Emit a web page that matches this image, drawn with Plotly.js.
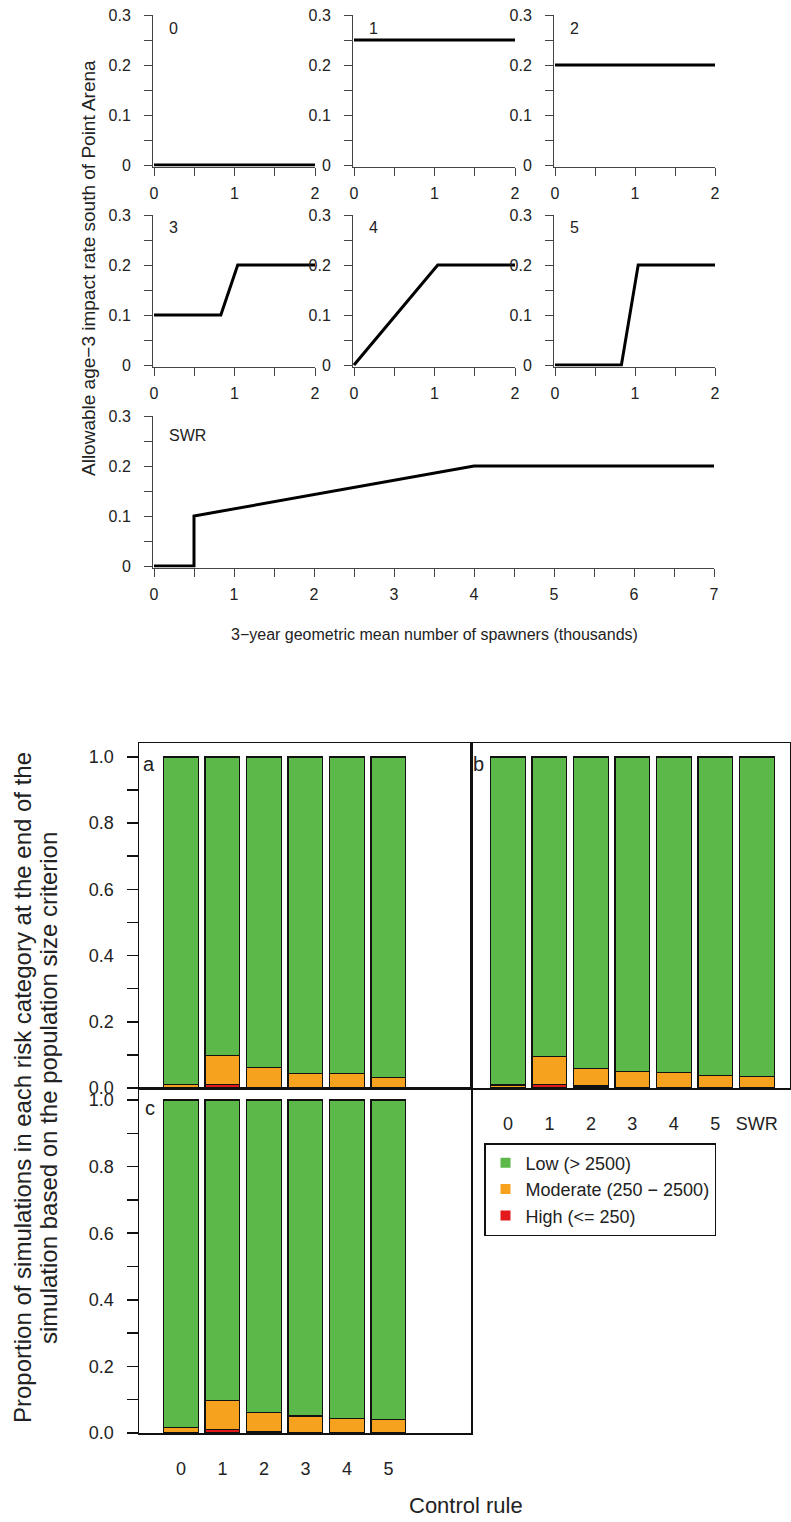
<!DOCTYPE html>
<html><head><meta charset="utf-8">
<script src="https://cdn.plot.ly/plotly-3.0.1.min.js"></script>
<style>html,body{margin:0;padding:0;background:#fff}</style>
</head><body><div id="chart" style="width:791px;height:1522px"></div>
<script>
// ---------- Control-rule data (top figure) ----------
const rule0X = [0, 2],               rule0Y = [0, 0];
const rule1X = [0, 2],               rule1Y = [0.25, 0.25];
const rule2X = [0, 2],               rule2Y = [0.2, 0.2];
const rule3X = [0, 0.83, 1.04, 2],   rule3Y = [0.1, 0.1, 0.2, 0.2];
const rule4X = [0, 1.04, 2],         rule4Y = [0, 0.2, 0.2];
const rule5X = [0, 0.83, 1.04, 2],   rule5Y = [0, 0, 0.2, 0.2];
const ruleSWRX = [0, 0.5, 0.5, 4, 7], ruleSWRY = [0, 0, 0.1, 0.2, 0.2];
const ruleLabels = ['0', '1', '2', '3', '4', '5', 'SWR'];

const topYTickVals = [0, 0.05, 0.1, 0.15, 0.2, 0.25, 0.3];
const topYTickText = ['0', '', '0.1', '', '0.2', '', '0.3'];
const smallXTickVals = [0, 0.5, 1, 1.5, 2];
const smallXTickText = ['0', '', '1', '', '2'];
const swrXTickVals = [0, 0.5, 1, 1.5, 2, 2.5, 3, 3.5, 4, 4.5, 5, 5.5, 6, 6.5, 7];
const swrXTickText = ['0', '', '1', '', '2', '', '3', '', '4', '', '5', '', '6', '', '7'];

// ---------- Risk category data (bottom figure) ----------
const rulesA = ['0', '1', '2', '3', '4', '5'];
const highA = [0.000, 0.011, 0.002, 0.001, 0.001, 0.001];
const modA  = [0.010, 0.087, 0.061, 0.044, 0.044, 0.031];
const lowA  = [0.990, 0.902, 0.937, 0.955, 0.955, 0.968];

const rulesB = ['0', '1', '2', '3', '4', '5', 'SWR'];
const highB = [0.001, 0.010, 0.006, 0.002, 0.001, 0.001, 0.002];
const modB  = [0.008, 0.085, 0.054, 0.047, 0.045, 0.036, 0.032];
const lowB  = [0.991, 0.905, 0.940, 0.951, 0.954, 0.963, 0.966];

const rulesC = ['0', '1', '2', '3', '4', '5'];
const highC = [0.002, 0.010, 0.004, 0.002, 0.001, 0.001];
const modC  = [0.014, 0.088, 0.058, 0.049, 0.042, 0.039];
const lowC  = [0.984, 0.902, 0.938, 0.949, 0.957, 0.960];

const barYTickVals = [0, 0.1, 0.2, 0.3, 0.4, 0.5, 0.6, 0.7, 0.8, 0.9, 1.0];
const barYTickText = ['0.0', '', '0.2', '', '0.4', '', '0.6', '', '0.8', '', '1.0'];
const categoryNames = ['Low (> 2500)', 'Moderate (250 \u2212 2500)', 'High (<= 250)'];
const categoryColors = ['#5cb848', '#f7a21e', '#e31a1c'];

// ---------- layout helpers ----------
const W = 791, H = 1522;
const fx = p => p / W;
const fy = p => 1 - p / H;
const FONT = 'Liberation Sans, Arial, sans-serif';

const traces = [];
const layout = {
  width: W, height: H, autosize: false,
  margin: {l: 0, r: 0, t: 0, b: 0, pad: 0},
  paper_bgcolor: '#fff', plot_bgcolor: '#fff',
  showlegend: true, barmode: 'stack', bargap: 0,
  hovermode: false,
  font: {family: FONT, color: '#222'},
  annotations: []
};

function topXAxis(domPx, range, vals, text, anchor) {
  return {domain: [fx(domPx[0]), fx(domPx[1])], range: range, anchor: anchor,
    showgrid: false, zeroline: false, showline: true, linecolor: '#444', linewidth: 1,
    ticks: 'outside', ticklen: 8, tickwidth: 1, tickcolor: '#444',
    tickmode: 'array', tickvals: vals, ticktext: text,
    ticklabelstandoff: 4, tickfont: {family: FONT, size: 16, color: '#222'}, fixedrange: true};
}
function topYAxis(domPx, anchor) {
  return {domain: [fy(domPx[1]), fy(domPx[0])], range: [-0.003, 0.3], anchor: anchor,
    showgrid: false, zeroline: false, showline: true, linecolor: '#444', linewidth: 1,
    ticks: 'outside', ticklen: 8, tickwidth: 1, tickcolor: '#444',
    tickmode: 'array', tickvals: topYTickVals, ticktext: topYTickText,
    ticklabelstandoff: 10, tickfont: {family: FONT, size: 16, color: '#222'}, fixedrange: true};
}

const ruleXs = [rule0X, rule1X, rule2X, rule3X, rule4X, rule5X, ruleSWRX];
const ruleYs = [rule0Y, rule1Y, rule2Y, rule3Y, rule4Y, rule5Y, ruleSWRY];
const colPx = [[153, 315], [353, 515], [554, 715]];
const rowPx = [[15, 166.5], [215, 366.5], [416, 567.5]];

for (let i = 0; i < 7; i++) {
  const n = i + 1;
  const xs = n === 1 ? 'x' : 'x' + n, ys = n === 1 ? 'y' : 'y' + n;
  const xk = n === 1 ? 'xaxis' : 'xaxis' + n, yk = n === 1 ? 'yaxis' : 'yaxis' + n;
  let xd, yd, xr, xv, xt;
  if (i < 6) {
    xd = colPx[i % 3]; yd = rowPx[Math.floor(i / 3)];
    xr = [-0.0125, 2]; xv = smallXTickVals; xt = smallXTickText;
  } else {
    xd = [153, 714]; yd = rowPx[2];
    xr = [-0.0125, 7]; xv = swrXTickVals; xt = swrXTickText;
  }
  layout[xk] = topXAxis(xd, xr, xv, xt, ys);
  layout[yk] = topYAxis(yd, xs);
  traces.push({type: 'scatter', mode: 'lines', x: ruleXs[i], y: ruleYs[i],
    xaxis: xs, yaxis: ys, line: {color: '#000', width: 3}, showlegend: false, hoverinfo: 'skip'});
  layout.annotations.push({text: ruleLabels[i], xref: xs + ' domain', yref: ys + ' domain',
    x: 14 / (xd[1] - xd[0]), y: 1 - (i === 6 ? 19 : 13) / (yd[1] - yd[0]), xanchor: 'left', yanchor: 'middle',
    showarrow: false, font: {family: FONT, size: 16, color: '#222'}});
}

layout.annotations.push({text: 'Allowable age\u22123 impact rate south of Point Arena',
  xref: 'paper', yref: 'paper', x: fx(88), y: fy(268), textangle: -90,
  xanchor: 'center', yanchor: 'middle', showarrow: false, font: {family: FONT, size: 19, color: '#222'}});
layout.annotations.push({text: '3\u2212year geometric mean number of spawners (thousands)',
  xref: 'paper', yref: 'paper', x: fx(434), y: fy(634),
  xanchor: 'center', yanchor: 'middle', showarrow: false, font: {family: FONT, size: 16, color: '#222'}});

// ---------- bar panels ----------
function barXAxis(domPx, range, anchor, labels) {
  return {domain: [fx(domPx[0]), fx(domPx[1])], range: range, anchor: anchor,
    showgrid: false, zeroline: false, showline: true, mirror: true, linecolor: '#111', linewidth: 1.5,
    ticks: '', tickmode: 'array', tickvals: labels ? labels.map((_, k) => k) : [],
    ticktext: labels || [], showticklabels: !!labels, ticklabelstandoff: 19,
    tickfont: {family: FONT, size: 18, color: '#222'}, fixedrange: true};
}
function barYAxis(domPx, range, anchor, withTicks) {
  return {domain: [fy(domPx[1]), fy(domPx[0])], range: range, anchor: anchor,
    showgrid: false, zeroline: false, showline: true, mirror: true, linecolor: '#111', linewidth: 1.5,
    ticks: withTicks ? 'outside' : '', ticklen: 11, tickwidth: 1.5, tickcolor: '#111',
    tickmode: 'array', tickvals: withTicks ? barYTickVals : [], ticktext: withTicks ? barYTickText : [],
    showticklabels: withTicks, ticklabelstandoff: 9,
    tickfont: {family: FONT, size: 18, color: '#222'}, fixedrange: true};
}

layout.xaxis8 = barXAxis([139, 471], [-1.01, 6.99], 'y8', null);
layout.yaxis8 = barYAxis([743, 1088], [0, 1.042], 'x8', true);
layout.xaxis9 = barXAxis([471, 790], [-0.89, 6.80], 'y9', rulesB);
layout.yaxis9 = barYAxis([743, 1088], [0, 1.042], 'x9', false);
layout.xaxis10 = barXAxis([139, 471], [-1.01, 6.99], 'y10', rulesC);
layout.yaxis10 = barYAxis([1088, 1433], [0, 1.036], 'x10', true);

function addBars(rules, high, mod, low, xa, ya) {
  const xs = rules.map((_, k) => k);
  [[high, 2], [mod, 1], [low, 0]].forEach(([vals, c]) => {
    traces.push({type: 'bar', x: xs, y: vals, xaxis: xa, yaxis: ya, width: 0.84,
      marker: {color: categoryColors[c], line: {color: '#111', width: 1.2}},
      name: categoryNames[c], showlegend: false, hoverinfo: 'skip'});
  });
}
addBars(rulesA, highA, modA, lowA, 'x8', 'y8');
addBars(rulesB, highB, modB, lowB, 'x9', 'y9');
addBars(rulesC, highC, modC, lowC, 'x10', 'y10');

// legend entries (square keys)
[0, 1, 2].forEach(c => {
  traces.push({type: 'scatter', mode: 'markers', x: [null], y: [null], xaxis: 'x10', yaxis: 'y10',
    name: categoryNames[c], marker: {symbol: 'square', size: 10, color: categoryColors[c]},
    showlegend: true, hoverinfo: 'skip'});
});
layout.legend = {x: fx(484), y: fy(1143), xanchor: 'left', yanchor: 'top',
  bordercolor: '#111', borderwidth: 1.5, bgcolor: '#fff', traceorder: 'normal',
  font: {family: FONT, size: 18, color: '#222'}, itemwidth: 30};

const letters = [['a', 149, 764], ['b', 478, 764], ['c', 150, 1108]];
letters.forEach(([t, px, py]) => layout.annotations.push({text: t, xref: 'paper', yref: 'paper',
  x: fx(px), y: fy(py), xanchor: 'center', yanchor: 'middle', showarrow: false,
  font: {family: FONT, size: 20, color: '#222'}}));

layout.annotations.push({text: 'Proportion of simulations in each risk category at the end of the',
  xref: 'paper', yref: 'paper', x: fx(22), y: fy(1088), textangle: -90,
  xanchor: 'center', yanchor: 'middle', showarrow: false, font: {family: FONT, size: 24, color: '#222'}});
layout.annotations.push({text: 'simulation based on the population size criterion',
  xref: 'paper', yref: 'paper', x: fx(48), y: fy(1088), textangle: -90,
  xanchor: 'center', yanchor: 'middle', showarrow: false, font: {family: FONT, size: 24, color: '#222'}});
layout.annotations.push({text: 'Control rule', xref: 'paper', yref: 'paper', x: fx(466), y: fy(1505),
  xanchor: 'center', yanchor: 'middle', showarrow: false, font: {family: FONT, size: 22, color: '#222'}});

Plotly.newPlot('chart', traces, layout, {staticPlot: true, displayModeBar: false});
</script></body></html>
